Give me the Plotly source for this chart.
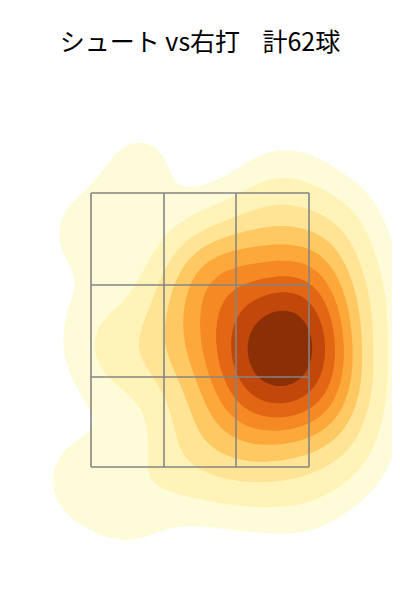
import numpy as np
import plotly.graph_objects as go

# Pitch locations (horizontal cm from plate centre, height cm), 62 pitches
pitch_x = [12.4, 16.4, 19.0, 17.0, 13.0, 10.0, 15.0, 20.0,
           14.4, 10.0, 19.0, 6.4, 6.0, 8.0, 12.4, 17.0, 21.0, 23.0, 23.6, 22.4, 5.6, 11.0, 24.0, 21.0,
           2.0, -2.0, -3.0, 0.0, 3.0, 9.0, 16.0, 22.4, 27.0, 28.0, 26.0, 20.0, 14.0, 8.0, 4.0, -5.0, -8.0, -1.0, 12.4, 21.0,
           -12.0, -23.0, -20.0, -24.0, -14.0, 0.0, 10.0, 21.0, 30.4, 32.0, 28.0, 17.6, 11.6, -16.4, -5.0, 24.0, 31.0, 1.0]
pitch_z = [70.6, 71.0, 68.2, 65.0, 64.6, 67.6, 67.6, 71.6,
           75.0, 75.0, 74.6, 70.6, 65.6, 60.6, 59.6, 59.0, 60.6, 68.6, 64.2, 73.6, 74.6, 56.6, 59.6, 77.6,
           80.6, 72.6, 65.6, 59.6, 53.6, 50.6, 50.6, 53.0, 56.6, 69.6, 80.6, 81.6, 82.6, 82.0, 86.2, 78.6, 69.6, 84.6, 88.6, 87.6,
           104.6, 92.2, 72.6, 43.0, 37.6, 44.2, 42.2, 40.6, 48.2, 78.6, 93.0, 100.6, 94.2, 65.0, 49.6, 87.6, 62.6, 86.2]

# Strike zone grid lines
zone_x = [-21.8, -7.2, 7.2, 21.8]
zone_z = [45.2, 63.2, 81.6, 100.0]

title_text = "シュート vs右打\u00a0\u00a0\u00a0\u00a0計62球"
band_colors = ["#fefbd8", "#fff3b8", "#fee494", "#fec863", "#fca83a",
               "#f58a25", "#e26613", "#c1470a", "#8a2f06"]

# Gaussian KDE (Scott's rule), as in seaborn kdeplot
data = np.vstack([pitch_x, pitch_z]).astype(float)
n = data.shape[1]
factor = n ** (-1.0 / 6)
cov = np.cov(data) * factor ** 2
inv = np.linalg.inv(cov)
norm = 1.0 / (2 * np.pi * np.sqrt(np.linalg.det(cov)) * n)

gx = np.linspace(-75, 75, 301)
gz = np.linspace(-15, 155, 341)
XX, ZZ = np.meshgrid(gx, gz)
dens = np.zeros_like(XX)
for px, pz in zip(pitch_x, pitch_z):
    dx = XX - px
    dz = ZZ - pz
    q = inv[0, 0] * dx * dx + 2 * inv[0, 1] * dx * dz + inv[1, 1] * dz * dz
    dens += np.exp(-0.5 * q)
dens *= norm

# iso-proportion levels (thresh=0.05, levels=10)
iso = np.linspace(0.05, 1, 10)
vals = np.sort(dens.ravel())[::-1]
cum = np.cumsum(vals) / vals.sum()
idx = np.searchsorted(cum, 1 - iso)
levels = np.take(vals, idx, mode="clip")
lev_ext = np.concatenate([[0.0], levels])
idx_ext = np.arange(-1, 10, dtype=float)
zt = np.interp(dens, lev_ext, idx_ext)

colorscale = [[0.0, "rgba(255,255,255,0)"]]
for k, c in enumerate(band_colors):
    colorscale.append([(k + 1) / 9, c])

fig = go.Figure()
fig.add_trace(go.Contour(
    x=gx, y=gz, z=zt,
    contours=dict(start=0, end=8, size=1, coloring="fill", showlines=False),
    line=dict(width=0),
    colorscale=colorscale,
    showscale=False,
    hoverinfo="skip",
))

shapes = []
for xv in zone_x:
    shapes.append(dict(type="line", xref="x", yref="y", x0=xv, x1=xv, y0=zone_z[0], y1=zone_z[-1],
                       line=dict(color="#858585", width=1.6), layer="above"))
for zv in zone_z:
    shapes.append(dict(type="line", xref="x", yref="y", x0=zone_x[0], x1=zone_x[-1], y0=zv, y1=zv,
                       line=dict(color="#858585", width=1.6), layer="above"))

fig.update_layout(
    width=392, height=592,
    margin=dict(l=0, r=0, t=100, b=0),
    paper_bgcolor="white", plot_bgcolor="white",
    title=dict(text=title_text, x=192 / 392, xanchor="center", y=1 - 34 / 592, yanchor="middle",
               yref="container", font=dict(family="Noto Sans CJK JP", size=25, color="black")),
    xaxis=dict(range=[-38.4, 40.0], visible=False, fixedrange=True),
    yaxis=dict(range=[18.6, 117.0], visible=False, fixedrange=True),
    shapes=shapes,
    showlegend=False,
)

fig.write_html("out.html")
